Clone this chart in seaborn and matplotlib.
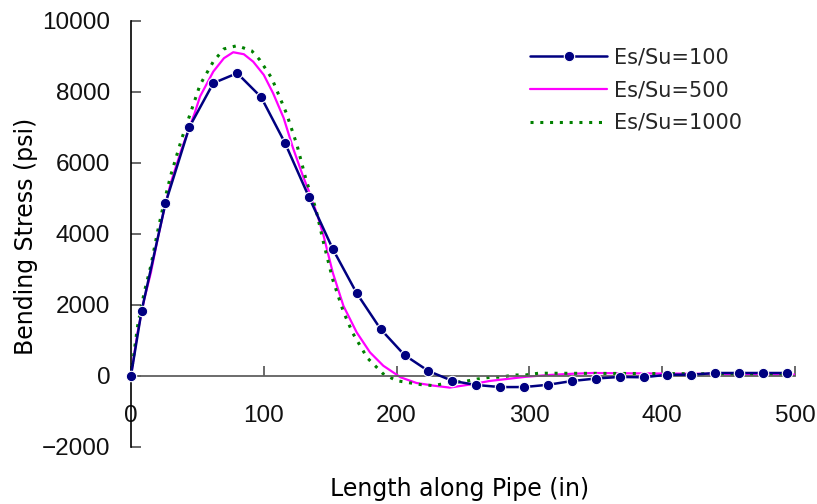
import matplotlib
matplotlib.use("Agg")
import matplotlib.pyplot as plt
import seaborn as sns
import pandas as pd

# ---- data ----
x_100 = [0, 8, 26, 44, 62, 80, 98, 116, 134, 152, 170, 188, 206, 224, 242, 260,
         278, 296, 314, 332, 350, 368, 386, 404, 422, 440, 458, 476, 494]
y_100 = [0, 1826, 4860, 7005, 8242, 8522, 7848, 6556, 5035, 3567, 2323, 1312, 581,
         132, -145, -261, -320, -320, -256, -150, -80, -35, -45, 28, 28, 76, 76, 76, 76]

x_500 = [0, 5, 10, 15, 20, 25, 30, 38, 48, 52, 62, 70, 77, 85, 92, 100, 107, 115,
         122, 130, 135, 141, 145, 152, 160, 170, 180, 190, 203, 215, 228, 240, 258,
         270, 283, 298, 315, 333, 348, 400, 450, 500]
y_500 = [0, 1219, 2154, 2904, 3840, 4683, 5432, 6368, 7399, 7865, 8567, 8944, 9112,
         9056, 8848, 8475, 7960, 7258, 6416, 5573, 5104, 4449, 3950, 2900, 1966, 1219,
         657, 281, -45, -205, -281, -335, -233, -149, -93, -28, 20, 56, 76, 60, 50, 30]

x_1000 = [0, 5, 10, 15, 20, 25, 30, 38, 48, 52, 62, 70, 80, 91, 97, 106, 117, 125,
          132, 139, 145, 152, 160, 167, 178, 190, 200, 208, 218, 228, 238, 252, 261,
          270, 279, 288, 297, 307, 400, 500]
y_1000 = [0, 1400, 2350, 3100, 4050, 4900, 5650, 6650, 7750, 8194, 8848, 9205, 9298,
          9149, 8896, 8382, 7398, 6500, 5500, 4730, 3750, 2700, 1800, 1200, 500, 50,
          -140, -190, -250, -280, -205, -157, -93, -46, -40, 20, 20, 70, 60, 40]

labels = ["Es/Su=100", "Es/Su=500", "Es/Su=1000"]
x_ticks = [0, 100, 200, 300, 400, 500]
y_ticks = [-2000, 0, 2000, 4000, 6000, 8000, 10000]

sns.set_style("white")
plt.rcParams["font.family"] = ["DejaVu Sans"]

fig = plt.figure(figsize=(8.17, 5.04), dpi=100)
ax = fig.add_axes([0.1603, 0.1137, 0.8127, 0.8452])

sns.lineplot(x=x_100, y=y_100, ax=ax, color="#000080", lw=1.8, marker="o",
             markersize=7.5, markeredgecolor="white", markeredgewidth=0.8,
             label=labels[0], clip_on=False, zorder=3)
sns.lineplot(x=x_500, y=y_500, ax=ax, color="#FF00FF", lw=1.6,
             label=labels[1], zorder=2)
sns.lineplot(x=x_1000, y=y_1000, ax=ax, color="#008000", lw=2.2,
             linestyle=(0, (1, 2.2)), label=labels[2], zorder=2)

ax.set_xlim(x_ticks[0], x_ticks[-1])
ax.set_ylim(y_ticks[0], y_ticks[-1])
ax.set_xticks(x_ticks)
ax.set_yticks(y_ticks)

for s in ("top", "right"):
    ax.spines[s].set_visible(False)
ax.spines["bottom"].set_position(("data", 0))
ax.spines["bottom"].set_color("#606060")
ax.spines["bottom"].set_linewidth(1.3)
ax.spines["left"].set_color("black")
ax.spines["left"].set_linewidth(1.2)

ax.tick_params(axis="both", which="major", direction="in", length=7, width=1.2,
               labelsize=17.5, color="#505050", labelcolor="#111111",
               bottom=True, left=True, top=False, right=False)
ax.tick_params(axis="x", pad=21)
ax.tick_params(axis="y", pad=15)
for t in ax.get_xticklabels() + ax.get_yticklabels():
    t.set_family(["Liberation Sans", "DejaVu Sans"])

ax.set_xlabel("Length along Pipe (in)", fontsize=17, color="black")
ax.set_ylabel("Bending Stress (psi)", fontsize=17, color="black")
ax.xaxis.set_label_coords(0.4955, -0.071)
ax.yaxis.set_label_coords(-0.14, 0.4946)

ax.legend(loc="upper left", bbox_to_anchor=(0.601, 0.938), frameon=False,
          fontsize=15, handlelength=3.7, handletextpad=0.34, labelspacing=0.62,
          borderpad=0, borderaxespad=0)

fig.savefig("out.png", dpi=100)
